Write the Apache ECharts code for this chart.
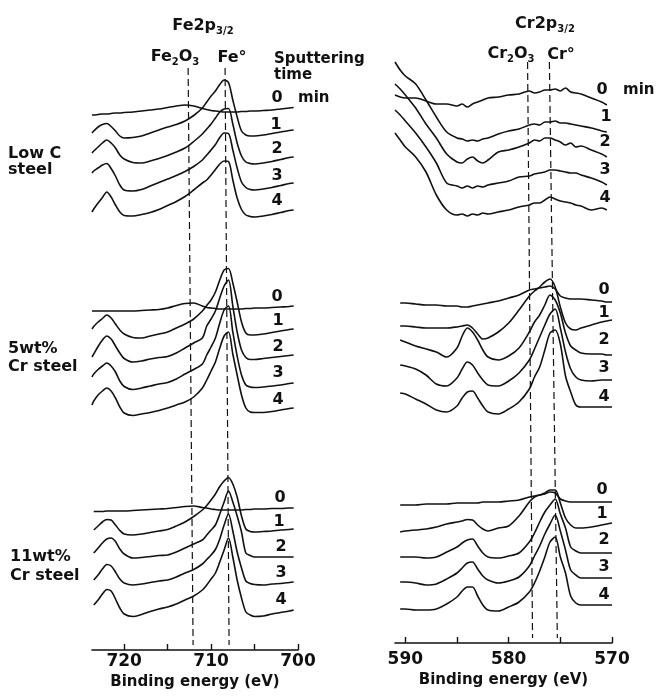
<!DOCTYPE html>
<html>
<head>
<meta charset="utf-8">
<script src="https://cdn.jsdelivr.net/npm/echarts@6/dist/echarts.min.js"></script>
<style>
  html, body { margin: 0; padding: 0; background: #fff; }
  #chart { width: 656px; height: 698px; }
</style>
</head>
<body>
<div id="chart"></div>
<script>
// binding energies (eV) sampled on each panel
var eFe = [723.7, 723.5, 723, 722.5, 722, 721.5, 721, 720.5, 720, 719, 718, 717, 716, 715, 714, 713, 712, 711, 710.5, 710, 709.5, 709, 708.5, 708, 707.5, 707, 706.5, 706, 705.5, 705, 704, 703, 702, 701, 700.5];
var eCr = [591, 590.5, 590, 589, 588, 587, 586, 585, 584.5, 584, 583.5, 583, 582.5, 582, 581, 580, 579, 578, 577.5, 577, 576.5, 576, 575.5, 575, 574.5, 574, 573.5, 573, 572, 571, 570.5, 570];

// stacked traces, sputtering time 0..4 min (vertical scale points down, arb. units)
var feLowC = [
  [115, 115, 114.5, 114, 114, 113.5, 113, 113, 112.5, 112, 111, 110, 109, 107.5, 106, 105, 106, 108.5, 109.5, 110.5, 111, 111.5, 112, 112, 112, 112, 111.5, 111.5, 111, 111, 110.5, 110, 109, 108, 107.5],
  [133, 131, 127, 124.5, 123.5, 126.5, 131, 136, 138, 137.5, 136, 133, 130, 127, 124.5, 121, 115.5, 108, 102, 96, 91, 84.5, 80, 82.5, 100, 117, 131, 135, 136, 136, 135, 133.5, 132, 130.5, 130],
  [153, 151, 147, 143, 140, 143, 148, 155, 159, 162.5, 163, 161, 158.5, 155.5, 152, 148, 141.5, 134, 129, 124, 118, 112, 109, 108.5, 124, 143, 156, 162, 163.5, 164, 163, 161.5, 159.5, 157.5, 157],
  [173, 171, 168, 165, 163.5, 168.5, 176, 185, 190, 191, 189.5, 186, 182.5, 179, 175.5, 171.5, 166.5, 160, 155, 150, 144.5, 137.5, 133, 133.5, 150, 168, 182, 187.5, 189.5, 190, 189, 187.5, 185.5, 183.5, 183],
  [212, 209, 203, 197.5, 192, 197, 205, 212, 215.5, 216, 214.5, 212.5, 209.5, 205.5, 201.5, 196.5, 190, 183, 180, 175, 169.5, 164, 161, 161.5, 180, 198, 209.5, 215, 216.5, 217, 216, 214.5, 212.5, 210.5, 210]
];
var fe5Cr = [
  [311, 311, 311, 311, 311, 311, 311, 311, 311, 311, 310.5, 310, 309.5, 308, 305.5, 303.5, 303, 306, 307.5, 308, 308.5, 309, 309, 309, 309, 309, 309, 308.5, 308.5, 308, 308, 307.5, 307, 306.5, 306],
  [329, 326.5, 322, 318.5, 315, 318, 324, 330, 334, 337.5, 338, 336, 334, 332, 328, 324, 319, 311, 305.5, 300, 292, 280, 270, 268.5, 283, 302, 322, 333, 335, 335, 334, 332.5, 331, 329.5, 329],
  [357, 354, 346.5, 340, 336, 339, 346, 353, 358.5, 362, 361, 359, 357.5, 356.5, 353, 348, 343, 338, 326, 319, 311, 298, 286, 280, 306, 332, 350, 357.5, 359.5, 359.5, 358.5, 357.5, 356.5, 355.5, 355],
  [377, 374, 369.5, 366, 363, 366, 372, 381, 386.5, 389.5, 388, 386, 384, 382.5, 379, 374, 369.5, 364, 355, 347, 338, 323, 310, 306, 332, 356, 375, 385, 387, 387.5, 387, 386, 385, 383.5, 383],
  [405, 401, 395, 391, 388, 391, 398, 407, 413, 415.5, 414, 412.5, 410.5, 408, 405, 402, 397, 388, 380, 371, 362, 348, 336, 332, 354, 375, 395, 408, 412, 412.5, 412.5, 411.5, 410, 408.5, 408]
];
var fe11Cr = [
  [null, 511.5, 511.5, 511.5, 511, 511, 511, 511, 511, 510.5, 510, 509.5, 509, 508.5, 507.5, 506.5, 506, 507.5, 508, 509, 509.5, 510, 510, 510, 510, 510, 510, 509.5, 509.5, 509, 509, 508.5, 508.5, 508, 508],
  [null, 530, 526, 522, 519.5, 520, 525, 530.5, 534, 535, 534, 532.5, 531, 529.5, 526, 522, 516.5, 510, 505.5, 500, 494, 486.5, 481, 477.5, 484, 497, 516, 529, 531.5, 532, 531.5, 531, 530, 529.5, 529],
  [null, 553, 548, 543, 539, 538, 541.5, 549, 554, 558, 557.5, 556.5, 555.5, 555, 552, 548, 544, 540, 535, 530, 525, 514, 502, 491, 502, 516, 532, 553, 555.5, 557, 557, 557, 557, 557, 557],
  [null, 580, 575, 569, 564.5, 566, 572, 579, 583, 585, 584, 582.5, 581, 580, 577, 573, 569.5, 564, 559.5, 555, 549.5, 539, 525, 514, 531, 552, 568, 581, 583.5, 584.5, 585, 584, 583.5, 582.5, 582],
  [null, 605, 600, 594, 589.5, 591, 599, 608, 614, 616.5, 614.5, 611.5, 609, 607, 604, 600, 596, 590, 585, 579, 573, 562, 550, 538, 557, 580, 598, 612, 615, 616.5, 616, 614, 612.5, 611, 610]
];

var crLowC = [
  [95, 97, 98, 98, 101, 104, 104, 106, 104, 107, 104, 102, 100, 98, 97, 95, 94, 91, 93, 92, 90, 90, 89, 91, 88, 92, 93, 94, 98, 102, 105, null],
  [62, 70, 76, 84, 100, 117, 132, 138, 139, 141, 140, 141, 139, 138, 134, 131, 129, 125, 124, 125, 122, 122, 121, 123, 123, 124, 125, 126, 128, 131, 132, null],
  [84, 89, 95, 108, 124, 138, 154, 162, 163, 159, 157, 161, 163, 160, 152, 150, 147, 143, 140, 141, 138, 138, 140, 142, 145, 143, 147, 146, 150, 154, 157, null],
  [110, 115, 121, 133, 147, 163, 183, 186, 188, 186, 188, 186, 187, 185, 183, 181, 177, 176, 174, 173, 172, 170, 170, 171, 172, 173, 173, 175, 178, 182, 185, null],
  [133, 140, 147, 157, 172, 195, 210, 215, 214, 216, 214, 215, 213, 214, 212, 210, 207, 205, 203, 203, 200, 197, 199, 201, 202, 203, 205, 206, 210, 208, 210, null]
];
var cr5Cr = [
  [null, 303, 303, 304, 305, 305, 306, 306, 307, 307, 306, 305, 304, 303, 301, 298, 295, 290, 289, 288, 287, 286, 289, 296, 298, 299, 299, 299, 300, 301, 302, 302],
  [null, 326, 326, 327, 328, 328, 328, 327, 326, 325, 328, 334, 339, 338, 332, 323, 310, 296, 291, 287, 282, 279, 287, 307, 323, 329, 330, 328, 325, 322, 321, 320],
  [null, 340, 342, 346, 349, 352, 357, 348, 336, 328, 332, 340, 350, 357, 360, 356, 348, 332, 322, 315, 305, 295, 300, 313, 333, 346, 350, 353, 354, 354, 355, 355],
  [null, 365, 366, 369, 375, 384, 386, 378, 369, 362, 365, 373, 380, 385, 386, 381, 373, 360, 349, 337, 325, 314, 309, 328, 352, 369, 377, 380, 381, 380, 380, 380],
  [null, 393, 394, 399, 404, 410, 412, 406, 398, 392, 391, 398, 406, 412, 414, 409, 402, 389, 377, 367, 350, 333, 330, 344, 376, 392, 405, 407, 407, 407, 407, 407]
];
var cr11Cr = [
  [null, 505, 505, 505, 504, 504, 504, 503, 503, 503, 503, 503, 502, 502, 502, 501, 500, 497, 496, 495, 494, 492, 493, 499, 501, 502, 502, 502, 502, 502, 502, 502],
  [null, 532, 531, 530, 529, 527, 524, 522, 521, 519.5, 520, 525, 529, 531, 528, 526, 516, 502, 497, 495, 493, 490, 490, 503, 518, 525, 528, 528, 527, 525, 524, 523],
  [null, 557, 557, 557, 558, 557, 552, 547, 543, 540, 539, 546, 553, 557, 558, 556, 553, 542, 533, 522, 512, 505, 499, 514, 528, 547, 551, 553, 553, 553, 553, 553],
  [null, 582, 582, 583, 585, 584, 579, 573, 568, 563, 562, 569, 576, 580, 583, 581, 577, 566, 556, 546, 534, 524, 515, 531, 550, 570, 575, 578, 578, 578, 578, 578],
  [null, 609, 609, 610, 610, 609, 604, 597, 591, 587, 587, 596, 605, 610, 611, 607, 602, 592, 583, 571, 557, 542, 537, 557, 573, 596, 603, 605, 605, 605, 605, 605]
];

// reference positions (dashed guides), [energy, level] at top and bottom
var fe2o3Line = [[712.64, 68], [712.07, 645]];
var fe0Line = [[708.39, 68], [707.93, 645]];
var cr2o3Line = [[578.17, 62], [577.69, 638]];
var cr0Line = [[576.06, 62], [575.29, 638]];

var feTicks = [700, 705, 710, 715, 720];
var feLabels = [700, 710, 720];
var crTicks = [570, 575, 580, 585, 590];
var crLabels = [570, 580, 590];

var FONT = 'DejaVu Sans';
var INK = '#111';

function spectra(energies, curves, gi) {
  return curves.map(function (vals) {
    return {
      type: 'line',
      xAxisIndex: gi,
      yAxisIndex: gi,
      data: energies.map(function (e, i) { return [e, vals[i]]; }),
      smooth: 0.3,
      symbol: 'none',
      silent: true,
      lineStyle: { color: INK, width: 1.6 }
    };
  });
}

function guide(pts, gi) {
  return {
    type: 'line',
    xAxisIndex: gi,
    yAxisIndex: gi,
    data: pts,
    symbol: 'none',
    silent: true,
    lineStyle: { color: INK, width: 1.2, type: [7, 4] }
  };
}

function xAxisFor(gi, min, max, ticks, labels, margin, gap) {
  return {
    gridIndex: gi,
    type: 'value',
    min: min,
    max: max,
    inverse: true,
    axisLine: { onZero: false, lineStyle: { color: INK, width: 1.6 } },
    axisTick: { inside: true, length: 6, customValues: ticks, lineStyle: { color: INK, width: 1.4 } },
    axisLabel: { customValues: labels, margin: margin, color: INK, fontFamily: FONT, fontWeight: 'bold', fontSize: 17 },
    splitLine: { show: false },
    name: 'Binding energy (eV)',
    nameLocation: 'middle',
    nameGap: gap,
    nameTextStyle: { color: INK, fontFamily: FONT, fontWeight: 'bold', fontSize: 15 }
  };
}

function txt(x, y, s, size, align) {
  return {
    type: 'text', x: x, y: y, silent: true,
    style: {
      text: s, fill: INK, fontFamily: FONT, fontWeight: 'bold', fontSize: size || 16,
      textAlign: align || 'center', align: align || 'center',
      textVerticalAlign: 'middle', verticalAlign: 'middle'
    }
  };
}

function richTxt(x, y, s) {
  return {
    type: 'text', x: x, y: y, silent: true,
    style: {
      text: s, fill: INK, fontFamily: FONT, fontWeight: 'bold', fontSize: 16,
      textAlign: 'center', align: 'center', textVerticalAlign: 'middle', verticalAlign: 'middle',
      rich: {
        m: { fontFamily: FONT, fontWeight: 'bold', fontSize: 16, lineHeight: 18, verticalAlign: 'top', fill: INK },
        s: { fontFamily: FONT, fontWeight: 'bold', fontSize: 10, lineHeight: 10, verticalAlign: 'bottom', fill: INK }
      }
    }
  };
}

var labels = [
  richTxt(203, 27, '{m|Fe2p}{s|3/2}'),
  richTxt(175, 58, '{m|Fe}{s|2}{m|O}{s|3}'),
  txt(232, 58, 'Fe°', 16),
  txt(274, 59, 'Sputtering', 15, 'left'),
  txt(274, 75, 'time', 15, 'left'),
  txt(298, 98, 'min', 15, 'left'),
  txt(623, 90, 'min', 15, 'left'),
  richTxt(545, 25, '{m|Cr2p}{s|3/2}'),
  richTxt(511, 55, '{m|Cr}{s|2}{m|O}{s|3}'),
  txt(561, 55, 'Cr°', 16),
  txt(8, 154, 'Low C', 16, 'left'),
  txt(8, 170, 'steel', 16, 'left'),
  txt(8, 349, '5wt%', 16, 'left'),
  txt(8, 367, 'Cr steel', 16, 'left'),
  txt(10, 557, '11wt%', 16, 'left'),
  txt(10, 576, 'Cr steel', 16, 'left')
];

var timeTags = ['0', '1', '2', '3', '4'];
var tagSpots = [
  [[277, 98], [276, 125], [277, 149], [277, 176], [277, 201]],
  [[277, 297], [278, 321], [278, 347], [278, 373], [278, 400]],
  [[280, 498], [279, 522], [281, 547], [281, 573], [281, 600]],
  [[602, 90], [606, 117], [605, 142], [605, 170], [605, 198]],
  [[604, 290], [604, 313], [604, 340], [604, 368], [604, 397]],
  [[602, 490], [602, 514], [604, 540], [604, 567], [604, 595]]
];
tagSpots.forEach(function (grp) {
  grp.forEach(function (p, i) { labels.push(txt(p[0], p[1], timeTags[i], 16)); });
});

var series = []
  .concat(spectra(eFe, feLowC, 0), spectra(eFe, fe5Cr, 0), spectra(eFe, fe11Cr, 0))
  .concat(spectra(eCr, crLowC, 1), spectra(eCr, cr5Cr, 1), spectra(eCr, cr11Cr, 1))
  .concat([guide(fe2o3Line, 0), guide(fe0Line, 0), guide(cr2o3Line, 1), guide(cr0Line, 1)]);

var myChart = echarts.init(document.getElementById('chart'), null, { renderer: 'canvas' });
myChart.setOption({
  backgroundColor: '#fff',
  animation: false,
  grid: [
    { left: 92, width: 206, top: 0, height: 650 },
    { left: 395, width: 217, top: 0, height: 643 }
  ],
  xAxis: [
    xAxisFor(0, 700, 723.7, feTicks, feLabels, 3, 25),
    xAxisFor(1, 570, 591, crTicks, crLabels, 8, 30)
  ],
  yAxis: [
    { gridIndex: 0, type: 'value', min: 0, max: 650, inverse: true, show: false },
    { gridIndex: 1, type: 'value', min: 0, max: 643, inverse: true, show: false }
  ],
  series: series,
  graphic: labels
});
</script>
</body>
</html>
